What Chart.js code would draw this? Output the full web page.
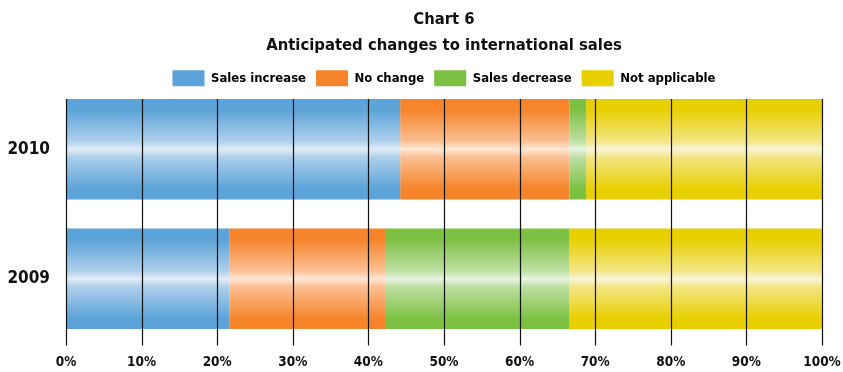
<!DOCTYPE html>
<html>
<head>
<meta charset="utf-8">
<script src="https://cdn.jsdelivr.net/npm/chart.js@4.4.0/dist/chart.umd.min.js"></script>
<style>
  html, body { margin: 0; padding: 0; background: #fff; }
  #wrap { width: 843px; height: 372px; }
</style>
</head>
<body>
<div id="wrap"><canvas id="barChart" width="843" height="372"></canvas></div>
<script>
/* =========================================
   DATA
========================================= */
const years = ["2010", "2009"];
const seriesNames = ["Sales increase", "No change", "Sales decrease", "Not applicable"];
const salesIncrease = [44.2, 21.6];
const noChange = [22.4, 20.6];
const salesDecrease = [2.2, 24.4];
const notApplicable = [31.2, 33.4];
const xTicks = [0, 10, 20, 30, 40, 50, 60, 70, 80, 90, 100];

const edgeColors = ["#5ba3d8", "#f5842a", "#7dc143", "#e8cf00"];
const halfColors = ["#adcfeb", "#fbbf92", "#bedfa2", "#f3e583"];
const midColors = ["#e3ecf7", "#ffe7d8", "#e9f3e1", "#faf4da"];

const FONT = "'DejaVu Sans Condensed', 'DejaVu Sans', sans-serif";
const BAR_PCT = 0.775;
// y axis runs over bar index (0 = 2010 at top), a bit of room above and below
const Y_MIN = -0.41;
const Y_MAX = 1.5;

/* =========================================
   GRADIENT FILL (light band in the middle)
========================================= */
function barFill(i) {
  return function (ctx) {
    const chart = ctx.chart;
    const yScale = chart.scales && chart.scales.y;
    if (!chart.chartArea || !yScale) return edgeColors[i];
    const step = Math.abs(yScale.getPixelForValue(1) - yScale.getPixelForValue(0));
    const half = step * BAR_PCT / 2;
    const y = yScale.getPixelForValue(ctx.dataIndex);
    const g = chart.ctx.createLinearGradient(0, y - half, 0, y + half);
    g.addColorStop(0, edgeColors[i]);
    g.addColorStop(0.1, edgeColors[i]);
    g.addColorStop(0.42, halfColors[i]);
    g.addColorStop(0.5, midColors[i]);
    g.addColorStop(0.58, halfColors[i]);
    g.addColorStop(0.9, edgeColors[i]);
    g.addColorStop(1, edgeColors[i]);
    return g;
  };
}

/* =========================================
   GRID LINES ON TOP OF THE BARS
========================================= */
const topGrid = {
  id: "topGrid",
  afterDatasetsDraw(chart) {
    const x = chart.scales.x;
    const first = chart.getDatasetMeta(0).data[0];
    const top = first.y - first.height / 2;
    const bottom = chart.chartArea.bottom + 2;
    const c = chart.ctx;
    c.save();
    c.strokeStyle = "#111";
    c.lineWidth = 1.2;
    xTicks.forEach(v => {
      const px = Math.round(x.getPixelForValue(v)) + 0.5;
      c.beginPath();
      c.moveTo(px, top);
      c.lineTo(px, bottom);
      c.stroke();
    });
    c.restore();
  }
};

/* =========================================
   CHART
========================================= */
const seriesData = [salesIncrease, noChange, salesDecrease, notApplicable];

new Chart(document.getElementById("barChart"), {
  type: "bar",
  data: {
    datasets: seriesData.map((d, i) => ({
      label: seriesNames[i],
      data: d.map((v, k) => ({ x: v, y: k })),
      backgroundColor: barFill(i),
      borderWidth: 0,
      barPercentage: BAR_PCT,
      categoryPercentage: 1
    }))
  },
  options: {
    indexAxis: "y",
    responsive: false,
    animation: false,
    layout: { padding: { top: 0, right: 0, bottom: 2, left: 0 } },
    plugins: {
      tooltip: { enabled: false },
      title: {
        display: true,
        fullSize: false,
        text: ["Chart 6", "Anticipated changes to international sales"],
        color: "#111",
        font: { family: FONT, size: 16.5, weight: "bold", lineHeight: 1.55 },
        padding: { top: 7, bottom: 2 }
      },
      legend: {
        position: "top",
        fullSize: false,
        labels: {
          color: "#111",
          boxWidth: 32,
          boxHeight: 16,
          padding: 10,
          font: { family: FONT, size: 13, weight: "bold" },
          generateLabels(chart) {
            return seriesNames.map((n, i) => ({
              text: n,
              fillStyle: edgeColors[i],
              strokeStyle: edgeColors[i],
              lineWidth: 0,
              datasetIndex: i
            }));
          }
        }
      }
    },
    scales: {
      x: {
        stacked: true,
        min: 0,
        max: 100,
        afterBuildTicks(scale) {
          scale.ticks = xTicks.map(v => ({ value: v }));
        },
        afterFit(scale) {
          scale.height = 26.5;
          scale.paddingLeft = 0;
          scale.paddingRight = 21;
        },
        grid: { display: false, drawTicks: false },
        border: { display: false },
        ticks: {
          color: "#111",
          padding: 11,
          maxRotation: 0,
          autoSkip: false,
          font: { family: FONT, size: 13.5, weight: "bold" },
          callback: v => v + "%"
        }
      },
      y: {
        type: "linear",
        stacked: true,
        reverse: true,
        offset: false,
        min: Y_MIN,
        max: Y_MAX,
        afterBuildTicks(scale) {
          scale.ticks = years.map((_, k) => ({ value: k }));
        },
        afterFit(scale) { scale.width = 66; },
        grid: { display: false, drawTicks: false },
        border: { display: false },
        ticks: {
          color: "#111",
          padding: 16,
          font: { family: FONT, size: 17, weight: "bold" },
          callback: v => years[v]
        }
      }
    }
  },
  plugins: [topGrid]
});
</script>
</body>
</html>
